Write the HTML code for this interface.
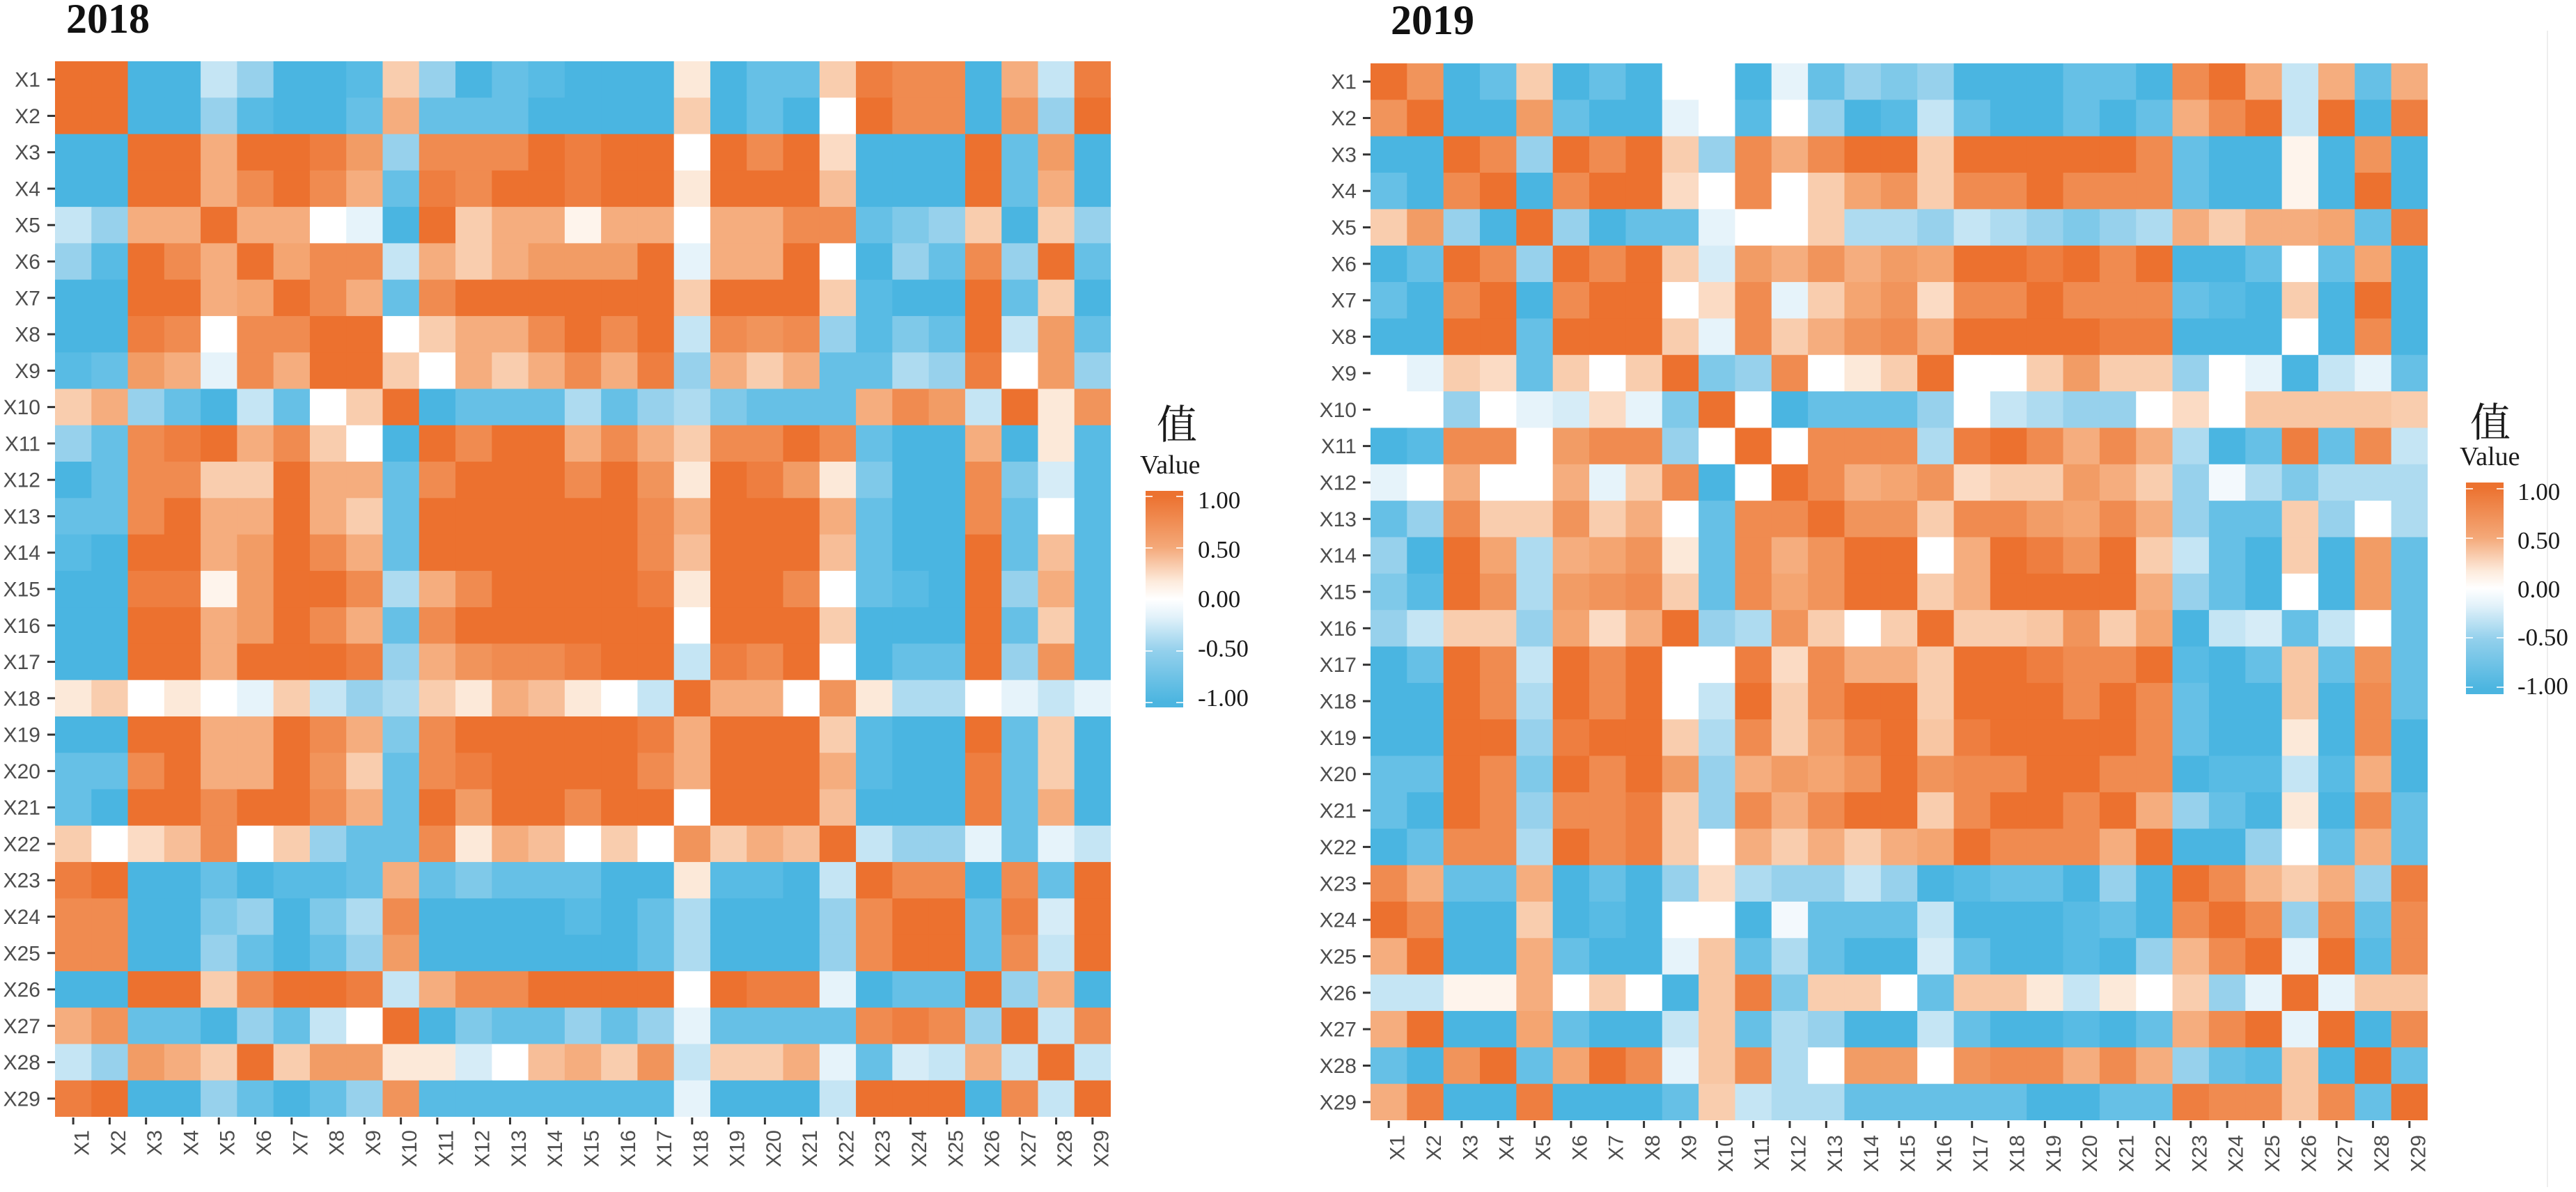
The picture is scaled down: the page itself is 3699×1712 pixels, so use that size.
<!DOCTYPE html>
<html>
<head>
<meta charset="utf-8">
<style>
  html,body{margin:0;padding:0;background:#ffffff;}
  svg{display:block;}
  .ax{font-family:"Liberation Sans",Arial,sans-serif;font-size:30px;fill:#4d4d4d;}
  .ttl{font-family:"Liberation Serif","Times New Roman",serif;font-size:60px;font-weight:bold;fill:#111;}
  .lg{font-family:"Liberation Serif","Times New Roman",serif;font-size:35px;fill:#1a1a1a;}
  .lv{font-family:"Liberation Serif","Times New Roman",serif;font-size:38px;fill:#1a1a1a;}
  .lz{font-family:"Liberation Serif","Noto Serif CJK SC","Noto Sans CJK SC",serif;font-size:58px;fill:#1a1a1a;}
</style>
</head>
<body>
<svg id="s" width="3699" height="1712" viewBox="0 0 3699 1712" xmlns="http://www.w3.org/2000/svg">
  <defs>
    <linearGradient id="gb" x1="0" y1="0" x2="0" y2="1">
      <stop offset="0" stop-color="#EC7230"/>
      <stop offset="0.025" stop-color="#EC7230"/>
      <stop offset="0.26" stop-color="#F4A878"/>
      <stop offset="0.42" stop-color="#FDEBDD"/>
      <stop offset="0.5" stop-color="#FFFFFF"/>
      <stop offset="0.58" stop-color="#E3F2FA"/>
      <stop offset="0.74" stop-color="#93D0EC"/>
      <stop offset="0.975" stop-color="#4BB5E0"/>
      <stop offset="1" stop-color="#4BB5E0"/>
    </linearGradient>
  </defs>
  <rect x="0" y="0" width="3699" height="1712" fill="#ffffff"/>
  <text class="ttl" x="95" y="47">2018</text>
  <text class="ttl" x="1997" y="49">2019</text>
  <line x1="3658" y1="44" x2="3658" y2="1705" stroke="#eeeeee" stroke-width="2"/>
  <g id="p1"></g>
  <g id="p2"></g>

  <!-- Left legend -->
  <text class="lz" x="1661" y="630">值</text>
  <text class="lv" x="1637" y="680">Value</text>
  <rect x="1645" y="705" width="54" height="311" fill="url(#gb)"/>
  <g stroke="#ffffff" stroke-width="2" opacity="0.8">
    <line x1="1645" y1="713" x2="1655" y2="713"/><line x1="1689" y1="713" x2="1699" y2="713"/>
    <line x1="1645" y1="787" x2="1655" y2="787"/><line x1="1689" y1="787" x2="1699" y2="787"/>
    <line x1="1645" y1="861" x2="1655" y2="861"/><line x1="1689" y1="861" x2="1699" y2="861"/>
    <line x1="1645" y1="935" x2="1655" y2="935"/><line x1="1689" y1="935" x2="1699" y2="935"/>
    <line x1="1645" y1="1009" x2="1655" y2="1009"/><line x1="1689" y1="1009" x2="1699" y2="1009"/>
  </g>
  <text class="lg" x="1720" y="730">1.00</text>
  <text class="lg" x="1720" y="801">0.50</text>
  <text class="lg" x="1720" y="872">0.00</text>
  <text class="lg" x="1720" y="943">-0.50</text>
  <text class="lg" x="1720" y="1014">-1.00</text>

  <!-- Right legend -->
  <text class="lz" x="3547" y="627">值</text>
  <text class="lv" x="3532" y="668">Value</text>
  <rect x="3541" y="693" width="54" height="304" fill="url(#gb)"/>
  <g stroke="#ffffff" stroke-width="2" opacity="0.8">
    <line x1="3541" y1="702" x2="3551" y2="702"/><line x1="3585" y1="702" x2="3595" y2="702"/>
    <line x1="3541" y1="773" x2="3551" y2="773"/><line x1="3585" y1="773" x2="3595" y2="773"/>
    <line x1="3541" y1="845" x2="3551" y2="845"/><line x1="3585" y1="845" x2="3595" y2="845"/>
    <line x1="3541" y1="916" x2="3551" y2="916"/><line x1="3585" y1="916" x2="3595" y2="916"/>
    <line x1="3541" y1="987" x2="3551" y2="987"/><line x1="3585" y1="987" x2="3595" y2="987"/>
  </g>
  <text class="lg" x="3615" y="718">1.00</text>
  <text class="lg" x="3615" y="788">0.50</text>
  <text class="lg" x="3615" y="858">0.00</text>
  <text class="lg" x="3615" y="927">-0.50</text>
  <text class="lg" x="3615" y="997">-1.00</text>
</svg>
<script>
(function(){
var L=[
"OOBBlmBBcq mBccBBBvBc cqOooBplO",
"OOBBmcBBcp cccBBBBqBc BwOooBomO",
"BBOOpOOoPm oooOOOOwOo OvBBBOcPB",
"BBOOpoOopc OoOOOOOvOO OpBBBOcpB",
"lmppOppwkB Oqppwppwpp ooccmqBqm",
"mBOopOpool pqpPPPOkpp OwBmcomOc",
"BBOOpPOopc oOOOOOOqOO OqBBBOcqB",
"BBOowooOOw qppoOoOloo omBccOlPc",
"BcPpkopOOq wpqpopOmpq pccmmOwPm",
"qpmcBlcwqO Bccclcmmmc ccpoPlOvo",
"mcooOpoqwB OoOOpopqoo OocBBpBvB",
"BcooqqOppc oOOOoOovOO PvcBBoclB",
"ccoOppOpqc OOOOOOopOO OpcBBocwB",
"BBOOpPOopc OOOOOOopOO OpcBBOcpB",
"BBoovPOOom poOOOOovOO owccBOmpB",
"BBOOpPOopc oOOOOOOwOO OqBBBOcqB",
"BBOOpOOOom pPooOOOlOo OwBccOmPB",
"vqwvwkqlml qvpqvwlOpp wovllwklk",
"BBOOppOopc oOOOOOopOO OqBBBOcqB",
"ccoOppOPqc ooOOOOopOO OpBBBocqB",
"cBOOoOOopc OPOOoOOwOO OpBBBOcpB",
"qwqqowqmcc ovpqwqwPqp qOlmmkckl",
"oOBBcBcccp cmcccBBvcc BlOooBocO",
"ooBBmmBmlo BBBBBBcmBB BmoOOcOlO",
"ooBBmcBcmP BBBBBBcmBB BmoOOcolO",
"BBOOqoOOol pooOOOOwOO okBccOmpB",
"pPccBmclwO Bmccmcmkcc ccooomOlo",
"lmPpqOqPPv vkwqpqolqq pkcklplOl",
"oOBBmcBcmP ccccccckBB BlOOOBolO"
];
var R=[
"OoBcqBcBww BkcmcmBBBc cBoOplpcp",
"POBBPcBBkw BwmBBlcBBc BcpoOlOBO",
"BBOomOoOqm opoOOqOOOO OocBBwBPB",
"cBoOBoOOvw owqpPqooOo oocBBwBOB",
"qPmBOmBcck wwqmmmlmmc mmpqppPcO",
"BcOomOoOqk PpPpPPOOoO oOBBcwcpB",
"cBoOBoOOwq okqpPvooOo oocBBqBOB",
"BBOOcOOOqk oqpPopOOOO OOBBBwBoB",
"wkqqcqwqOm mowvqOwwqP qqmwkBlkc",
"wwmwklvkcO wBcccmwllm mwvwrrrrq",
"BcoowPoomw OwooomoOop oplBcOcol",
"kwpwwpkqoB wOopPovqqP pqmwmcmml",
"cmoqqoqpwc ooOooqooop opmccqmwm",
"mBOPlpPovc opPOOwpOOo OqlcBqBPc",
"mcOolPooqc opPOOqpOOO OpmcBwBPc",
"mlqqmpqpOm lPqwqOqqqP qPBllclwc",
"BcOolOoOww OqoppqOOoo oOcBcrcPc",
"BBOolOoOwl OqoOOqOOOo OocBBrBoc",
"BBOOmOOOqm oqpoOrOOOO OocBBvBoB",
"ccOomOoOPm pPPPOoooOO ooBBclBpB",
"cBOomoooqm opoOOqoOOo OpmcBvBoc",
"BcoolOooqw pqpqppOooo pOBBmwcpc",
"opccpBcBmq mmmlmBBccB mBOopqpmO",
"OoBBqBcBww BkccclBBBc cBoOomoco",
"pOBBpcBBkq clcBBkcBBB BmroOkOBo",
"llvvpwqwBq omqqwcqqvl vwqmkOkrr",
"pOBBpcBBlq clmBBlcBBc BcpoOkOBo",
"cBoOcPOokq olwPPwooop opmccqBOc",
"poBBoBBBcq lmlcccccBB ccoooqocO"
];
var V={O:1,o:.72,P:.62,p:.5,r:.4,q:.3,v:.12,w:0,k:-.12,l:-.3,m:-.5,c:-.75,B:-1};
var A=[[-1,74,181,225],[-.75,102,192,230],[-.5,151,209,236],[-.3,197,229,244],[-.12,230,243,250],[0,255,255,255],[.12,252,233,217],[.3,249,205,174],[.4,247,190,152],[.5,245,173,126],[.62,242,156,101],[.72,240,139,80],[1,236,113,47]];
function col(v){
  if(v<=-1)v=-1; if(v>=1)v=1;
  for(var i=1;i<A.length;i++){
    if(v<=A[i][0]){
      var a=A[i-1],b=A[i],t=(v-a[0])/(b[0]-a[0]);
      return 'rgb('+Math.round(a[1]+t*(b[1]-a[1]))+','+Math.round(a[2]+t*(b[2]-a[2]))+','+Math.round(a[3]+t*(b[3]-a[3]))+')';
    }
  }
  return '#fff';
}
function mat(rows){
  var m=[];
  for(var i=0;i<29;i++){
    var s=rows[i].replace(/ /g,'');
    var r=[];
    for(var j=0;j<29;j++){var ch=s.charAt(j);r.push(V.hasOwnProperty(ch)?V[ch]:0);}
    m.push(r);
  }
  // symmetrize
  var o=[];
  for(var i=0;i<29;i++){o.push([]);for(var j=0;j<29;j++){o[i].push((m[i][j]+m[j][i])/2);}}
  return o;
}
function panel(id,rows,gx,gy,size,labEnd,tickX0,xLabY){
  var cs=size/29, m=mat(rows), h='';
  for(var i=0;i<29;i++){
    for(var j=0;j<29;j++){
      h+='<rect x="'+(gx+j*cs).toFixed(2)+'" y="'+(gy+i*cs).toFixed(2)+'" width="'+(cs+0.7).toFixed(2)+'" height="'+(cs+0.7).toFixed(2)+'" fill="'+col(m[i][j])+'"/>';
    }
  }
  // cover overflow at right/bottom edges
  h+='<rect x="'+(gx+size).toFixed(2)+'" y="'+(gy-1)+'" width="2" height="'+(size+3)+'" fill="#fff"/>';
  h+='<rect x="'+(gx-1)+'" y="'+(gy+size).toFixed(2)+'" width="'+(size+3)+'" height="2" fill="#fff"/>';
  for(var k=0;k<29;k++){
    var yc=gy+(k+0.5)*cs;
    h+='<line x1="'+tickX0+'" y1="'+yc.toFixed(2)+'" x2="'+gx+'" y2="'+yc.toFixed(2)+'" stroke="#333" stroke-width="3"/>';
    h+='<text class="ax" x="'+labEnd+'" y="'+(yc+10.5).toFixed(2)+'" text-anchor="end">X'+(k+1)+'</text>';
    var xc=gx+(k+0.5)*cs;
    h+='<line x1="'+xc.toFixed(2)+'" y1="'+(gy+size+1).toFixed(2)+'" x2="'+xc.toFixed(2)+'" y2="'+(gy+size+11).toFixed(2)+'" stroke="#333" stroke-width="3"/>';
    h+='<text class="ax" transform="translate('+(xc+22.5).toFixed(2)+','+xLabY+') rotate(-90)" text-anchor="end">X'+(k+1)+'</text>';
  }
  document.getElementById(id).innerHTML=h;
}
panel('p1',L,79,88,1516,58,68,1623);
panel('p2',R,1968,91,1518,1948,1957,1630);
})();
</script>
</body>
</html>
